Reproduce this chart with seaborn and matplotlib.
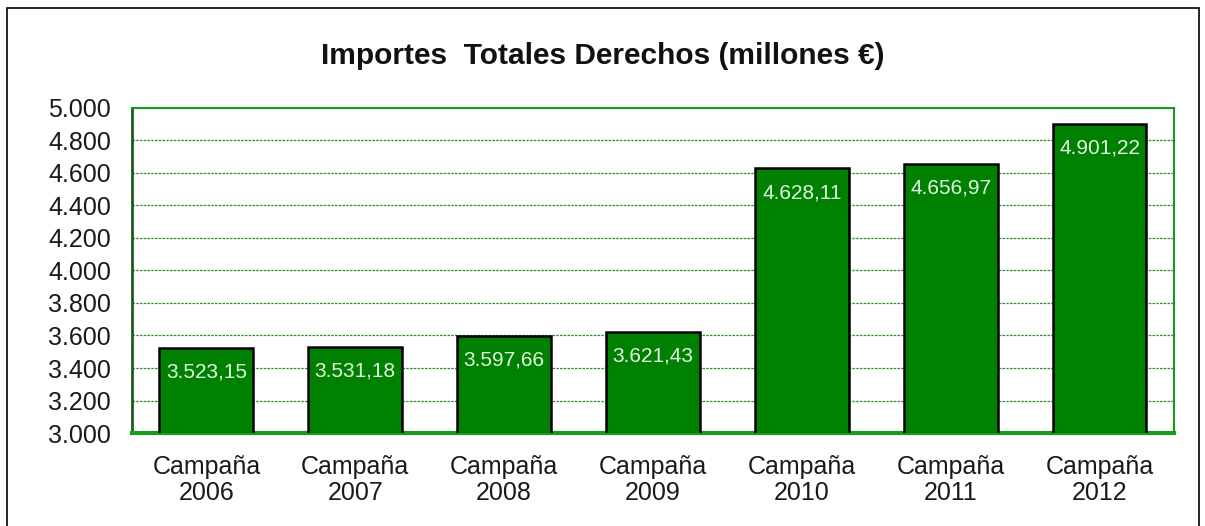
import matplotlib
matplotlib.use("Agg")
import matplotlib.pyplot as plt
from matplotlib.patches import Rectangle
import seaborn as sns
import pandas as pd

campanas = ["2006", "2007", "2008", "2009", "2010", "2011", "2012"]
importes = [3523.15, 3531.18, 3597.66, 3621.43, 4628.11, 4656.97, 4901.22]
yticks = [3000, 3200, 3400, 3600, 3800, 4000, 4200, 4400, 4600, 4800, 5000]

df = pd.DataFrame({"campana": ["Campaña\n" + c for c in campanas],
                   "importe": importes})

sns.set_style("white")
plt.rcParams["font.family"] = ["Liberation Sans", "DejaVu Sans"]


def es_num(v, dec=2):
    s = f"{v:,.{dec}f}"
    return s.replace(",", "X").replace(".", ",").replace("X", ".")


fig = plt.figure(figsize=(12.05, 5.26), dpi=100)
ax = fig.add_axes([0.1095, 0.1768, 0.8648, 0.6179])

sns.barplot(data=df, x="campana", y="importe", color="#008000",
            saturation=1, width=0.63, edgecolor="black", linewidth=1.8,
            ax=ax, zorder=3)

ax.set_ylim(3000, 5000)
ax.set_xlim(-0.5, len(campanas) - 0.5)
ax.set_yticks(yticks)
ax.set_yticklabels([es_num(t, 0) for t in yticks], fontsize=18, color="#1a1a1a")
ax.tick_params(axis="y", length=6, width=1.2, color="#222222", pad=9)
ax.set_xticks([i + 0.5 for i in range(-1, len(campanas))], minor=True)
ax.tick_params(axis="x", which="major", length=0, labelsize=18, pad=16,
               labelcolor="#1a1a1a")
ax.tick_params(axis="x", which="minor", length=5, width=3, color="#1a9a1a",
               direction="out")
for lbl in ax.get_xticklabels():
    lbl.set_linespacing(1.1)

ax.yaxis.grid(True, color="#2e8b2e", linestyle=(0, (2, 1)), linewidth=0.9)
ax.set_axisbelow(True)
ax.set_xlabel("")
ax.set_ylabel("")

for side in ["top", "right"]:
    ax.spines[side].set_color("#1a9a1a")
    ax.spines[side].set_linewidth(1.5)
ax.spines["bottom"].set_color("#1a9a1a")
ax.spines["bottom"].set_linewidth(3)
ax.spines["left"].set_color("#1f5a1f")
ax.spines["left"].set_linewidth(2)

for i, v in enumerate(importes):
    ax.annotate(es_num(v), (i, v), xytext=(0, -17.5), textcoords="offset points",
                ha="center", va="center", color="#e0f8e0", fontsize=15,
                zorder=5)

fig.text(0.5, 0.893, "Importes  Totales Derechos (millones €)", ha="center",
         va="center", fontsize=21.5, fontweight="bold", color="#111111")

fig.patches.append(Rectangle((7 / 1205, -0.01), 1192 / 1205, 1 - 8 / 526 + 0.01,
                             transform=fig.transFigure, fill=False,
                             edgecolor="black", linewidth=1.2))

fig.savefig("out.png", dpi=100)
